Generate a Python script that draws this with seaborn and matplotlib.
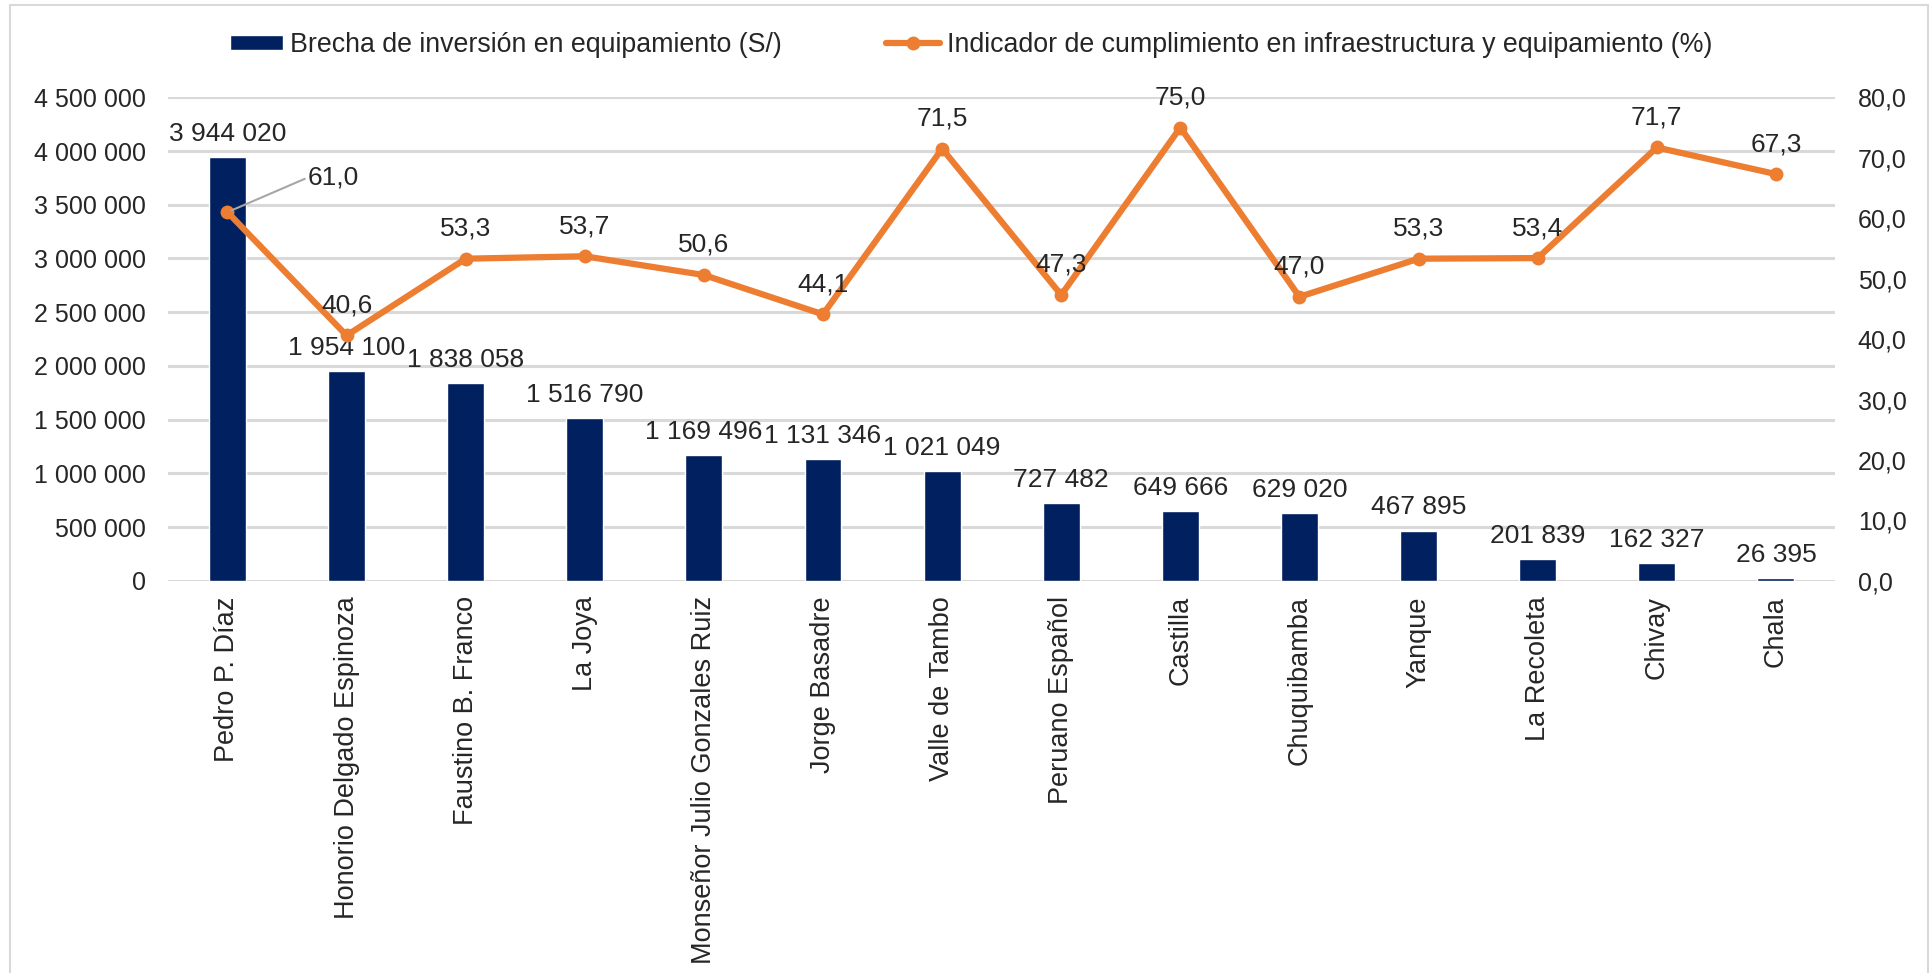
"""Brecha de inversión en equipamiento vs indicador de cumplimiento."""
import matplotlib
matplotlib.use('Agg')
import matplotlib.pyplot as plt
from matplotlib.lines import Line2D
from matplotlib.ticker import FuncFormatter, MultipleLocator
import numpy as np
import seaborn as sns

# data
instituciones = ['Pedro P. Díaz', 'Honorio Delgado Espinoza', 'Faustino B. Franco',
                 'La Joya', 'Monseñor Julio Gonzales Ruiz', 'Jorge Basadre',
                 'Valle de Tambo', 'Peruano Español', 'Castilla', 'Chuquibamba',
                 'Yanque', 'La Recoleta', 'Chivay', 'Chala']
brecha = [3944020, 1954100, 1838058, 1516790, 1169496, 1131346, 1021049,
          727482, 649666, 629020, 467895, 201839, 162327, 26395]
indicador = [61.0, 40.6, 53.3, 53.7, 50.6, 44.1, 71.5, 47.3, 75.0, 47.0,
             53.3, 53.4, 71.7, 67.3]

label_brecha = 'Brecha de inversión en equipamiento (S/)'
label_indicador = 'Indicador de cumplimiento en infraestructura y equipamiento (%)'

navy = '#002060'
orange = '#ED7D31'
grid_gray = '#D9D9D9'

sns.set_style('white')
plt.rcParams['font.family'] = ['Liberation Sans', 'DejaVu Sans']
plt.rcParams['font.size'] = 18

fig = plt.figure(figsize=(19.3, 9.73), dpi=100)
ax = fig.add_axes([0.087, 0.403, 0.864, 0.497])

sns.barplot(x=instituciones, y=brecha, color=navy, width=0.31, ax=ax,
            label=label_brecha, saturation=1)
ax.set_xlim(-0.5, len(instituciones) - 0.5)
ax.set_ylim(0, 4500000)
ax.yaxis.set_major_locator(MultipleLocator(500000))
ax.yaxis.set_major_formatter(FuncFormatter(lambda v, p: f'{int(v):,}'.replace(',', ' ')))
ax.grid(axis='y', color=grid_gray, linewidth=2.2)
ax.set_axisbelow(True)
ax.tick_params(axis='y', length=0, pad=16, labelsize=18)
ax.tick_params(axis='x', length=0, pad=11, labelsize=19.5, labelrotation=90)
ax.set(xlabel='', ylabel='')
for s in ax.spines.values():
    s.set_visible(False)

# bar value labels
for i, v in enumerate(brecha):
    ax.annotate(f'{v:,}'.replace(',', ' '), (i, v), xytext=(0, 8),
                textcoords='offset points', ha='center', va='bottom', fontsize=19)

ax2 = ax.twinx()
sns.lineplot(x=np.arange(len(indicador)), y=indicador, color=orange, linewidth=4.5,
             marker='o', markersize=10, markeredgewidth=0, ax=ax2, label=label_indicador)
ax2.set_ylim(0, 80)
ax2.yaxis.set_major_locator(MultipleLocator(10))
ax2.yaxis.set_major_formatter(FuncFormatter(lambda v, p: f'{v:.1f}'.replace('.', ',')))
ax2.tick_params(axis='y', length=0, pad=16, labelsize=18)
ax2.set(xlabel='', ylabel='')
ax2.grid(False)
for s in ax2.spines.values():
    s.set_visible(False)

# line value labels
for i, v in enumerate(indicador):
    txt = f'{v:.1f}'.replace('.', ',')
    if i == 0:
        ax2.annotate(txt, (i, v), xytext=(58, 25), textcoords='offset points',
                     ha='left', va='center', fontsize=19,
                     arrowprops=dict(arrowstyle='-', color='#A6A6A6', lw=1.5,
                                     shrinkA=0, shrinkB=3, relpos=(0, 0.5)))
    else:
        ax2.annotate(txt, (i, v), xytext=(0, 13), textcoords='offset points',
                     ha='center', va='bottom', fontsize=19)

for a in (ax, ax2):
    if a.get_legend() is not None:
        a.get_legend().remove()

h1, l1 = ax.get_legend_handles_labels()
h2, l2 = ax2.get_legend_handles_labels()
fig.legend(h1 + h2, l1 + l2, loc='center', bbox_to_anchor=(0.503, 0.954), ncol=2,
           frameon=False, fontsize=19.3, handlelength=2.0, handleheight=0.5,
           handletextpad=0.25, columnspacing=3.9)

# chart border (left, top, right)
for xs, ys in [([0.005, 0.005], [0, 0.995]), ([0.005, 0.999], [0.995, 0.995]),
               ([0.999, 0.999], [0, 0.995])]:
    fig.add_artist(Line2D(xs, ys, transform=fig.transFigure, color=grid_gray, lw=1.5))

fig.savefig('out.png', dpi=100)
